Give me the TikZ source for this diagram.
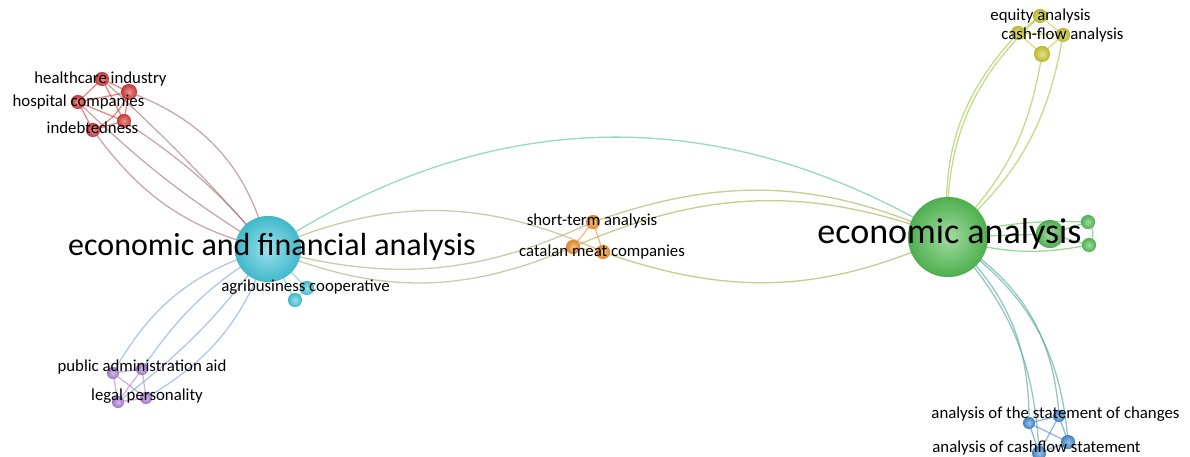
\documentclass[tikz,border=0pt]{standalone}
\usepackage{fontspec}
\setmainfont{Carlito}
\usetikzlibrary{backgrounds}
\definecolor{cyanN}{RGB}{70,200,220}
\definecolor{greenN}{RGB}{85,190,85}
\definecolor{redN}{RGB}{215,60,60}
\definecolor{yellowN}{RGB}{200,200,50}
\definecolor{orangeN}{RGB}{240,145,45}
\definecolor{purpleN}{RGB}{170,130,210}
\definecolor{blueN}{RGB}{70,140,210}
\begin{document}
\begin{tikzpicture}[x=1pt,y=1pt,
  ball/.style={circle, inner sep=0pt, minimum size=#1},
  sph/.style={shading=radial, inner color=#1!55!white, outer color=#1!92!black, draw=#1!80!black, draw opacity=0.3, line width=0.4pt},
  cy/.style={ball=#1, sph=cyanN},
  gr/.style={ball=#1, sph=greenN},
  rd/.style={ball=#1, sph=redN},
  ye/.style={ball=#1, sph=yellowN},
  og/.style={ball=#1, sph=orangeN},
  pu/.style={ball=#1, sph=purpleN},
  bl/.style={ball=#1, sph=blueN},
  ed/.style={line width=1.3pt, draw opacity=0.6, draw=#1},
  lab/.style={font=\fontsize{16.8}{18}\selectfont, inner sep=0pt, text=black},
  biglab/.style={font=\fontsize{#1}{#1}\selectfont, inner sep=0pt, text=black}
]
\useasboundingbox (0,0) rectangle (1190,-457);
% nodes
\node[cy=66] (C) at (268,-249) {};
\node[cy=14] (S1) at (307,-288) {};
\node[cy=14] (S2) at (295,-300) {};
\node[gr=80] (G) at (948,-237) {};
\node[gr=28] (G2) at (1050,-234) {};
\node[gr=14] (G3) at (1088,-222) {};
\node[gr=14] (G4) at (1089,-245) {};
\node[rd=14] (R1) at (102,-79) {};
\node[rd=16] (R2) at (129,-92) {};
\node[rd=14] (R3) at (78,-102) {};
\node[rd=14] (R4) at (124,-121) {};
\node[rd=14] (R5) at (93,-130) {};
\node[ye=14] (Y1) at (1040,-16) {};
\node[ye=14] (Y2) at (1018,-33) {};
\node[ye=14] (Y3) at (1063,-35) {};
\node[ye=16] (Y4) at (1042,-54) {};
\node[og=14] (O1) at (593,-222) {};
\node[og=14] (O2) at (573,-247) {};
\node[og=14] (O3) at (603,-252) {};
\node[pu=12] (P1) at (113,-373) {};
\node[pu=12] (P2) at (142,-369) {};
\node[pu=12] (P3) at (118,-402) {};
\node[pu=12] (P4) at (146,-398) {};
\node[bl=12] (B1) at (1029,-423) {};
\node[bl=12] (B2) at (1059,-416) {};
\node[bl=14] (B3) at (1068,-442) {};
\node[bl=14] (B4) at (1039,-453) {};
% edges
\begin{scope}[on background layer]
\draw[ed=cyanN!50!greenN] (C.center) to[bend left=32] (G.center);
% cyan - orange
\draw[ed=cyanN!40!orangeN] (C.center) to[bend left=24] (O3.center);
\draw[ed=cyanN!40!orangeN] (C.center) to[bend right=20] (O1.center);
\draw[ed=cyanN!40!orangeN] (C.center) to[bend right=23] (O2.center);
% orange - green
\draw[ed=orangeN!50!greenN] (O1.center) to[bend left=22] (G.center);
\draw[ed=orangeN!50!greenN] (O2.center) to[bend left=22] (G.center);
\draw[ed=orangeN!50!greenN] (O3.center) to[bend right=22] (G.center);
% orange internal
\draw[ed=orangeN] (O1.center) -- (O2.center);
\draw[ed=orangeN] (O1.center) -- (O3.center);
\draw[ed=orangeN] (O2.center) -- (O3.center);
% red - cyan
\draw[ed=redN!65!cyanN] (R2.center) to[bend left=28] (C.center);
\draw[ed=redN!65!cyanN] (R4.center) to[bend left=8] (C.center);
\draw[ed=redN!65!cyanN] (R1.center) to[bend left=3] (C.center);
\draw[ed=redN!65!cyanN] (R3.center) to[bend right=6] (C.center);
\draw[ed=redN!65!cyanN] (R5.center) to[bend right=20] (C.center);
% red internal
\draw[ed=redN] (R1.center) -- (R2.center);
\draw[ed=redN] (R1.center) -- (R3.center);
\draw[ed=redN] (R1.center) -- (R4.center);
\draw[ed=redN] (R3.center) -- (R2.center);
\draw[ed=redN] (R3.center) -- (R4.center);
\draw[ed=redN] (R2.center) -- (R4.center);
\draw[ed=redN] (R3.center) -- (R5.center);
\draw[ed=redN] (R4.center) -- (R5.center);
\draw[ed=redN] (R2.center) to[bend left=20] (R5.center);
% cyan - purple
\draw[ed=cyanN!45!purpleN] (C.center) to[bend right=22] (P1.center);
\draw[ed=cyanN!45!purpleN] (C.center) to[bend right=12] (P2.center);
\draw[ed=cyanN!45!purpleN] (C.center) to[bend left=8] (P3.center);
\draw[ed=cyanN!45!purpleN] (C.center) to[bend left=20] (P4.center);
% purple internal
\draw[ed=purpleN] (P1.center) -- (P2.center);
\draw[ed=purpleN] (P1.center) -- (P3.center);
\draw[ed=purpleN] (P1.center) -- (P4.center);
\draw[ed=purpleN] (P2.center) -- (P3.center);
\draw[ed=purpleN] (P2.center) -- (P4.center);
\draw[ed=purpleN] (P3.center) -- (P4.center);
% cyan small
\draw[ed=cyanN] (C.center) -- (S1.center);
\draw[ed=cyanN] (C.center) -- (S2.center);
\draw[ed=cyanN] (S1.center) -- (S2.center);
% green internal
\draw[ed=greenN] (G.center) -- (G2.center);
\draw[ed=greenN] (G.center) to[bend left=8] (G3.center);
\draw[ed=greenN] (G.center) to[bend right=14] (G4.center);
\draw[ed=greenN] (G2.center) -- (G3.center);
\draw[ed=greenN] (G2.center) -- (G4.center);
\draw[ed=greenN] (G3.center) to[bend left=40] (G4.center);
% yellow - green
\draw[ed=yellowN!60!greenN] (Y2.center) to[bend right=24] (G.center);
\draw[ed=yellowN!60!greenN] (Y1.center) to[bend right=25] (G.center);
\draw[ed=yellowN!60!greenN] (Y4.center) to[bend left=18] (G.center);
\draw[ed=yellowN!60!greenN] (Y3.center) to[bend left=20] (G.center);
% yellow internal
\draw[ed=yellowN] (Y1.center) -- (Y2.center);
\draw[ed=yellowN] (Y1.center) -- (Y3.center);
\draw[ed=yellowN] (Y2.center) -- (Y3.center);
\draw[ed=yellowN] (Y2.center) -- (Y4.center);
\draw[ed=yellowN] (Y3.center) -- (Y4.center);
% green - blue
\draw[ed=greenN!45!blueN] (G.center) to[bend left=24] (B1.center);
\draw[ed=greenN!45!blueN] (G.center) to[bend left=20] (B4.center);
\draw[ed=greenN!45!blueN] (G.center) to[bend left=28] (B2.center);
\draw[ed=greenN!45!blueN] (G.center) to[bend left=26] (B3.center);
% blue internal
\draw[ed=blueN] (B1.center) -- (B2.center);
\draw[ed=blueN] (B1.center) -- (B3.center);
\draw[ed=blueN] (B1.center) -- (B4.center);
\draw[ed=blueN] (B2.center) -- (B3.center);
\draw[ed=blueN] (B3.center) -- (B4.center);
\draw[ed=blueN] (B2.center) -- (B4.center);
\end{scope}
% labels
\node[biglab=32] (LC) at (272,-247) {economic and financial analysis};
\node[biglab=36] (LG) at (949.5,-234) {economic analysis};
\node[lab] (LR1) at (100.5,-79) {healthcare industry};
\node[lab] (LR3) at (78.5,-102) {hospital companies};
\node[lab] (LR5) at (92.5,-128) {indebtedness};
\node[lab] (LY1) at (1040.5,-16) {equity analysis};
\node[lab] (LY2) at (1062.5,-35) {cash-flow analysis};
\node[lab] (LO1) at (592,-221) {short-term analysis};
\node[lab] (LO2) at (602,-252) {catalan meat companies};
\node[lab] (LS) at (305.5,-287) {agribusiness cooperative};
\node[lab] (LP1) at (142,-367) {public administration aid};
\node[lab] (LP3) at (147,-396) {legal personality};
\node[lab] (LB1) at (1055.5,-414) {analysis of the statement of changes};
\node[lab] (LB2) at (1036.5,-448) {analysis of cashflow statement};
\end{tikzpicture}
\end{document}
